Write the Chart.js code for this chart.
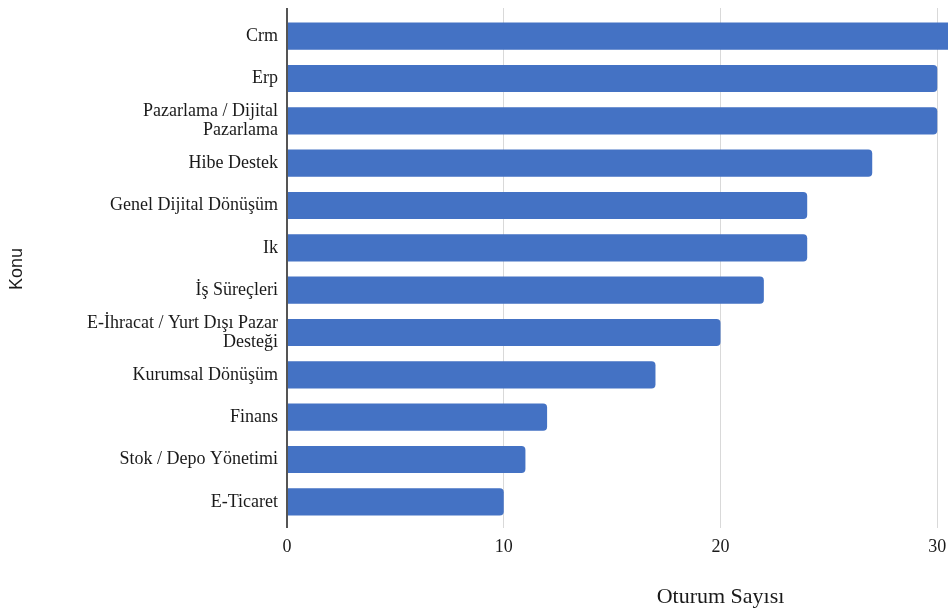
<!DOCTYPE html>
<html>
<head>
<meta charset="utf-8">
<script src="https://cdn.jsdelivr.net/npm/chart.js@4"></script>
<style>
  html, body { margin: 0; padding: 0; background: #fff; }
  #wrap { width: 948px; height: 615px; overflow: hidden; }
</style>
</head>
<body>
<div id="wrap">
  <canvas id="barChart" width="1171" height="615"></canvas>
</div>
<script>
// konu basina oturum sayilari
var topics = [
    'Crm',
    'Erp',
    ['Pazarlama / Dijital', 'Pazarlama'],
    'Hibe Destek',
    'Genel Dijital Dönüşüm',
    'Ik',
    'İş Süreçleri',
    ['E-İhracat / Yurt Dışı Pazar', 'Desteği'],
    'Kurumsal Dönüşüm',
    'Finans',
    'Stok / Depo Yönetimi',
    'E-Ticaret'
];
var sessionCounts = [32, 30, 30, 27, 24, 24, 22, 20, 17, 12, 11, 10];
var xTickStep = 10;
var xMax = 40;

var serif = '"Liberation Serif", "Times New Roman", serif';
var gridLight = '#d9d9d9';
var axisDark = '#555555';

function gridColor(ctx) {
    return ctx.tick && ctx.tick.value === 0 ? axisDark : gridLight;
}
function gridWidth(ctx) {
    return ctx.tick && ctx.tick.value === 0 ? 2 : 1;
}

var canvas = document.getElementById('barChart');

var barChart = new Chart(canvas, {
    type: 'bar',
    data: {
        labels: topics,
        datasets: [{
            data: sessionCounts,
            backgroundColor: '#4472c4',
            borderRadius: 4,
            barPercentage: 0.64,
            categoryPercentage: 1
        }]
    },
    options: {
        indexAxis: 'y',
        responsive: false,
        animation: false,
        layout: {
            padding: { top: 8, right: 12, bottom: 0, left: 0 }
        },
        plugins: {
            legend: { display: false },
            tooltip: { enabled: false }
        },
        scales: {
            x: {
                position: 'bottom',
                min: 0,
                max: xMax,
                ticks: {
                    stepSize: xTickStep,
                    padding: 8,
                    color: '#1a1a1a',
                    font: { family: serif, size: 18 }
                },
                grid: {
                    color: gridColor,
                    lineWidth: gridWidth,
                    drawTicks: true,
                    tickLength: 5
                },
                border: { display: false },
                title: {
                    display: true,
                    text: 'Oturum Sayısı',
                    color: '#1a1a1a',
                    font: { family: serif, size: 22 },
                    padding: { top: 0, bottom: 5 }
                },
                afterFit: function (scale) { scale.height = 92; }
            },
            xTop: {
                type: 'linear',
                axis: 'x',
                position: 'top',
                min: 0,
                max: xMax,
                ticks: { display: false, stepSize: xTickStep },
                grid: {
                    color: gridColor,
                    lineWidth: gridWidth,
                    drawOnChartArea: false,
                    drawTicks: true,
                    tickLength: 7
                },
                border: { display: false }
            },
            y: {
                grid: { display: false, drawTicks: false },
                border: { display: false },
                ticks: {
                    padding: 9,
                    color: '#1a1a1a',
                    font: { family: serif, size: 18, lineHeight: 1.05 }
                },
                title: {
                    display: true,
                    text: 'Konu',
                    color: '#1a1a1a',
                    font: { family: '"Liberation Sans", Arial, sans-serif', size: 18 },
                    padding: { top: 6, bottom: 0 }
                },
                afterFit: function (scale) {
                    scale.width = 287;
                    // labels sit inside the category bands, no extra room needed
                    scale.paddingTop = 0;
                    scale.paddingBottom = 0;
                }
            }
        }
    }
});
</script>
</body>
</html>
